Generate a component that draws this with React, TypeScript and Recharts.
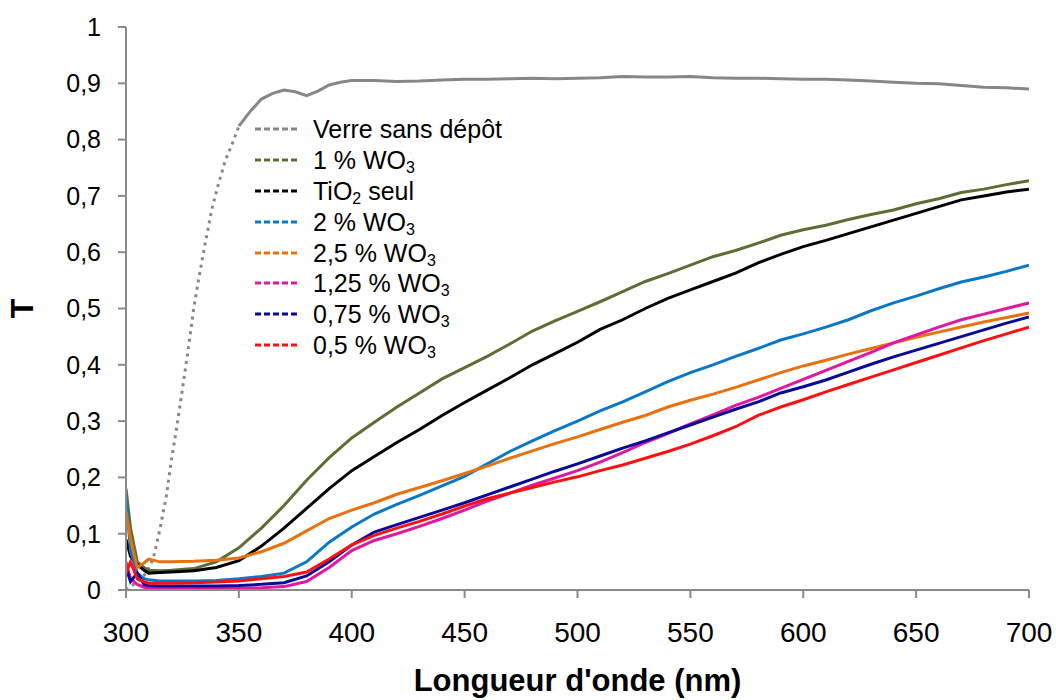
import { LineChart, Line, XAxis, YAxis } from 'recharts';

// wavelengths (nm) for the glass reference, finer where it climbs
const WL_GLASS = [
  300, 303, 306, 309, 312, 315, 318, 320, 322, 325, 328, 330, 332, 335, 338, 341, 344, 347, 350,
  355, 360, 365, 370, 375, 380, 385, 390, 395, 400,
  410, 420, 430, 440, 450, 460, 470, 480, 490, 500,
  510, 520, 530, 540, 550, 560, 570, 580, 590, 600,
  610, 620, 630, 640, 650, 660, 670, 680, 690, 700,
];
const T_GLASS = [
  0.0, 0.009, 0.018, 0.03, 0.055, 0.107, 0.17, 0.228, 0.277, 0.357, 0.44, 0.5, 0.548, 0.614, 0.676, 0.722, 0.763, 0.792, 0.824,
  0.85, 0.872, 0.882, 0.888, 0.885, 0.878, 0.886, 0.897, 0.902, 0.905,
  0.905, 0.903, 0.904, 0.906, 0.907, 0.907, 0.908, 0.909, 0.908, 0.909,
  0.91, 0.912, 0.911, 0.911, 0.912, 0.91, 0.909, 0.909, 0.908, 0.907,
  0.907, 0.906, 0.904, 0.902, 0.9, 0.899, 0.896, 0.893, 0.892, 0.89,
];

// wavelengths (nm) for the coated samples
const WL = [
  300, 302, 305, 308, 310, 315, 320,
  330, 340, 350, 360, 370, 380, 390, 400,
  410, 420, 430, 440, 450, 460, 470, 480, 490, 500,
  510, 520, 530, 540, 550, 560, 570, 580, 590, 600,
  610, 620, 630, 640, 650, 660, 670, 680, 690, 700,
];
const T_WO3_1 = [
  0.18, 0.11, 0.05, 0.04, 0.035, 0.034, 0.035,
  0.038, 0.05, 0.075, 0.11, 0.15, 0.195, 0.235, 0.27,
  0.298, 0.325, 0.35, 0.375, 0.395, 0.415, 0.437, 0.46, 0.478, 0.495,
  0.512, 0.53, 0.548, 0.562, 0.577, 0.592, 0.603, 0.616, 0.63, 0.64,
  0.648, 0.658, 0.667, 0.675, 0.686, 0.695, 0.706, 0.712, 0.72, 0.727,
];
const T_TIO2 = [
  0.09, 0.06, 0.045, 0.035, 0.03, 0.031, 0.032,
  0.034, 0.04, 0.052, 0.078, 0.11, 0.145, 0.18, 0.212,
  0.237, 0.262, 0.285, 0.31, 0.333, 0.355, 0.377, 0.4, 0.42, 0.44,
  0.463, 0.48, 0.5, 0.518, 0.533, 0.548, 0.563, 0.581, 0.596, 0.61,
  0.621, 0.633, 0.645, 0.657, 0.669, 0.681, 0.693, 0.7, 0.707, 0.712,
];
const T_WO3_2 = [
  0.165, 0.07, 0.03, 0.02, 0.018, 0.016, 0.016,
  0.016, 0.017, 0.02, 0.024, 0.03, 0.05, 0.085, 0.112,
  0.135, 0.152, 0.168, 0.185, 0.202, 0.224, 0.246, 0.265, 0.283, 0.3,
  0.318, 0.334, 0.352, 0.37, 0.386, 0.4, 0.415, 0.429, 0.444, 0.455,
  0.467, 0.48, 0.496, 0.51, 0.522, 0.535, 0.547, 0.556, 0.566, 0.577,
];
const T_WO3_25 = [
  0.14, 0.09, 0.04, 0.048, 0.055, 0.05, 0.05,
  0.051, 0.053, 0.057, 0.068, 0.083, 0.105, 0.127, 0.142,
  0.155, 0.17, 0.182, 0.194, 0.207, 0.22, 0.234, 0.247, 0.26, 0.272,
  0.285, 0.298, 0.31, 0.325, 0.337, 0.348, 0.36, 0.373, 0.386, 0.398,
  0.408, 0.419, 0.429, 0.439, 0.449, 0.458, 0.467, 0.476, 0.484, 0.492,
];
const T_WO3_125 = [
  0.05, 0.02, 0.01, 0.005, 0.004, 0.003, 0.003,
  0.003, 0.003, 0.003, 0.004, 0.006, 0.015, 0.04, 0.07,
  0.088, 0.1, 0.113, 0.127, 0.142, 0.158, 0.172, 0.186, 0.199, 0.212,
  0.227, 0.244, 0.262, 0.278, 0.295, 0.311, 0.328, 0.342, 0.358, 0.374,
  0.39, 0.406, 0.422, 0.439, 0.453, 0.467, 0.48, 0.49, 0.5, 0.51,
];
const T_WO3_075 = [
  0.04, 0.015, 0.03, 0.01, 0.008, 0.007, 0.007,
  0.007, 0.007, 0.008, 0.01, 0.013, 0.025, 0.05, 0.08,
  0.103, 0.116, 0.129, 0.142, 0.155, 0.169, 0.183, 0.197, 0.211, 0.224,
  0.238, 0.252, 0.265, 0.279, 0.293, 0.307, 0.321, 0.334, 0.35, 0.361,
  0.373, 0.387, 0.401, 0.414, 0.426, 0.438, 0.45, 0.462, 0.474, 0.485,
];
const T_WO3_05 = [
  0.03, 0.05, 0.02, 0.015, 0.012, 0.012, 0.012,
  0.013, 0.014, 0.016, 0.02, 0.024, 0.032, 0.055, 0.08,
  0.097, 0.11, 0.122, 0.135, 0.149, 0.162, 0.172, 0.182, 0.192, 0.201,
  0.212, 0.222, 0.234, 0.246, 0.259, 0.274, 0.29, 0.31, 0.325, 0.338,
  0.352, 0.365, 0.378, 0.391, 0.404, 0.417, 0.43, 0.443, 0.455, 0.467,
];

const X_TICKS = [300, 350, 400, 450, 500, 550, 600, 650, 700];
const Y_TICKS = [0, 0.1, 0.2, 0.3, 0.4, 0.5, 0.6, 0.7, 0.8, 0.9, 1];

// "_3" marks a subscript digit
const SERIES = [
  { name: 'Verre sans dépôt', color: '#878787', wl: WL_GLASS, t: T_GLASS },
  { name: '1 % WO_3', color: '#5b6f34', wl: WL, t: T_WO3_1 },
  { name: 'TiO_2 seul', color: '#000000', wl: WL, t: T_TIO2 },
  { name: '2 % WO_3', color: '#0a78c8', wl: WL, t: T_WO3_2 },
  { name: '2,5 % WO_3', color: '#e8720f', wl: WL, t: T_WO3_25 },
  { name: '1,25 % WO_3', color: '#e0189e', wl: WL, t: T_WO3_125 },
  { name: '0,75 % WO_3', color: '#0a0a9a', wl: WL, t: T_WO3_075 },
  { name: '0,5 % WO_3', color: '#ff1010', wl: WL, t: T_WO3_05 },
];

const FONT = '"Liberation Sans", Arial, sans-serif';
const AXIS = '#8a8a8a';

const toPoints = (wl: number[], t: number[]) => wl.map((x, i) => ({ x, y: t[i] }));
const fmt = (v: number) => String(+v.toFixed(1)).replace('.', ',');

function renderName(name: string) {
  const parts = name.split(/_(\d)/);
  return parts.map((p, i) =>
    i % 2 === 1 ? (
      <span key={i} style={{ fontSize: 16, position: 'relative', top: 4, lineHeight: 1 }}>{p}</span>
    ) : (
      <span key={i}>{p}</span>
    )
  );
}

export default function App() {
  const glass = toPoints(WL_GLASS, T_GLASS);
  const glassRise = glass.filter((d) => d.x <= 350);
  const glassFlat = glass.filter((d) => d.x >= 350);

  return (
    <div style={{ position: 'absolute', left: 0, top: 0, width: 1056, height: 700, background: '#fff', fontFamily: FONT }}>
      <LineChart width={1056} height={700} margin={{ top: 27, right: 27, bottom: 0, left: 0 }}>
        <XAxis
          type="number"
          dataKey="x"
          domain={[300, 700]}
          ticks={X_TICKS}
          allowDataOverflow
          height={110}
          stroke={AXIS}
          strokeWidth={2}
          tickSize={8}
          tickMargin={24}
          tick={{ fill: '#000', fontSize: 28, fontFamily: FONT }}
          label={{
            content: (props: any) => {
              const vb = props.viewBox;
              return (
                <text x={vb.x + vb.width / 2} y={691} textAnchor="middle" fontSize={31} fontWeight="bold" fontFamily={FONT} fill="#000">
                  Longueur d'onde (nm)
                </text>
              );
            },
          }}
        />
        <YAxis
          type="number"
          dataKey="y"
          domain={[0, 1]}
          ticks={Y_TICKS}
          width={126}
          stroke={AXIS}
          strokeWidth={2}
          tickSize={8}
          tickMargin={17}
          tickFormatter={fmt}
          tick={{ fill: '#000', fontSize: 25, fontFamily: FONT }}
          label={{
            content: (props: any) => {
              const vb = props.viewBox;
              const cy = vb.y + vb.height / 2;
              return (
                <text x={22} y={cy} transform={`rotate(-90 22 ${cy})`} textAnchor="middle" dominantBaseline="central" fontSize={32} fontWeight="bold" fontFamily={FONT} fill="#000">
                  T
                </text>
              );
            },
          }}
        />
        <Line data={glassRise} dataKey="y" stroke={SERIES[0].color} strokeWidth={3} strokeDasharray="3 4.5" dot={false} isAnimationActive={false} />
        <Line data={glassFlat} dataKey="y" stroke={SERIES[0].color} strokeWidth={3} dot={false} isAnimationActive={false} />
        {SERIES.slice(1).map((s) => (
          <Line
            key={s.name}
            data={toPoints(s.wl, s.t)}
            dataKey="y"
            name={s.name}
            stroke={s.color}
            strokeWidth={3}
            dot={false}
            isAnimationActive={false}
          />
        ))}
      </LineChart>
      <div style={{ position: 'absolute', left: 255, top: 114, fontSize: 25, color: '#000' }}>
        {SERIES.map((s) => (
          <div key={s.name} style={{ display: 'flex', alignItems: 'center', height: 30.8, whiteSpace: 'nowrap' }}>
            <svg width={44} height={6} style={{ marginRight: 14 }}>
              <line x1={0} y1={3} x2={44} y2={3} stroke={s.color} strokeWidth={3} strokeDasharray="6 3" />
            </svg>
            <span style={{ lineHeight: '26px' }}>{renderName(s.name)}</span>
          </div>
        ))}
      </div>
    </div>
  );
}
